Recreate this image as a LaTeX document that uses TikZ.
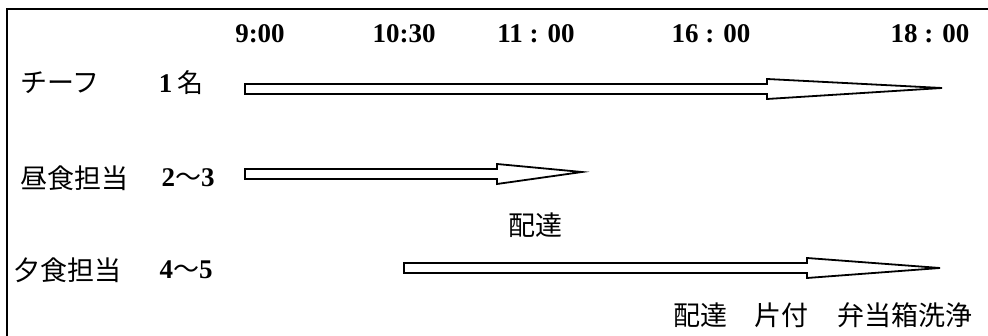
\documentclass[tikz,border=0pt]{standalone}
\usepackage{fontspec}
\setmainfont{Liberation Serif}
\newfontfamily\jpfont{Noto Sans CJK JP}
\usetikzlibrary{calc}
\newcommand\tlarrow[3]{\draw[bar] ($(#1)+(0,-5)$) -- ($(#2)+(0,-5)$) -- ($(#2)+(0,-10)$) -- (#3) -- ($(#2)+(0,10)$) -- ($(#2)+(0,5)$) -- ($(#1)+(0,5)$) -- cycle;}
\newcommand\jpin[1]{{\mdseries\jpfont\fontsize{26}{26}\selectfont #1}}
\begin{document}
\begin{tikzpicture}[x=1pt,y=-1pt,
  num/.style={font=\fontsize{27}{27}\selectfont\bfseries, inner sep=0pt},
  jpt/.style={font=\fontsize{27}{27}\selectfont\jpfont, inner sep=0pt},
  bar/.style={draw, line width=1.8pt, line join=miter, fill=white},
  frame/.style={line width=2pt}]
\useasboundingbox (0,0) rectangle (988,336);
\draw[frame] (988,9) -- (7,9) -- (7,336);
% header times
\node[num] (t900) at (260,34) {9:00};
\node[num] (t1030) at (404,34) {10:30};
\node[num] (t1100) at (536,34) {11 : 00};
\node[num] (t1600) at (711,34) {16 : 00};
\node[num] (t1800) at (930,34) {18 : 00};
% row labels
\node[jpt, anchor=west] (chief) at (20,83) {チーフ};
\node[num] (chiefn) at (181,83) {1\hspace{5pt}\jpin{名}};
\node[jpt, anchor=west] (lunch) at (20,178) {昼食担当};
\node[num] (lunchn) at (188,178) {2\jpin{～}3};
\node[jpt, anchor=west] (dinner) at (13,270) {夕食担当};
\node[num] (dinnern) at (186,270) {4\jpin{～}5};
% notes
\node[jpt] (deliv1) at (535,225) {配達};
\node[jpt] (deliv2) at (700,315) {配達};
\node[jpt] (clean) at (781,315) {片付};
\node[jpt] (wash) at (905,315) {弁当箱洗浄};
% timeline arrows
\coordinate (a1s) at (245,89);
\coordinate (a1h) at (767,89);
\coordinate (a1t) at (942,88);
\coordinate (a2s) at (245,174);
\coordinate (a2h) at (497,174);
\coordinate (a2t) at (582,172);
\coordinate (a3s) at (404,268);
\coordinate (a3h) at (807,268);
\coordinate (a3t) at (940,268);
\tlarrow{a1s}{a1h}{a1t}
\tlarrow{a2s}{a2h}{a2t}
\tlarrow{a3s}{a3h}{a3t}
\end{tikzpicture}
\end{document}
